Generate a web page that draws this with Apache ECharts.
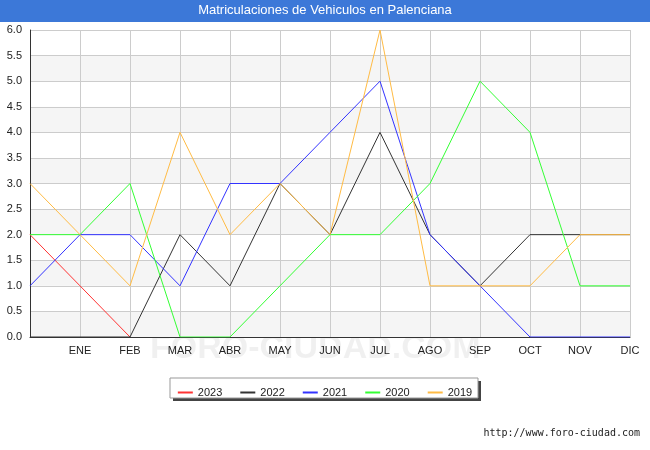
<!DOCTYPE html>
<html><head><meta charset="utf-8">
<script src="https://cdn.jsdelivr.net/npm/echarts@6/dist/echarts.min.js"></script>
<style>body{margin:0}#c{width:650px;height:450px}</style></head>
<body><div id="c"></div>
<script>
const months = ['', 'ENE', 'FEB', 'MAR', 'ABR', 'MAY', 'JUN', 'JUL', 'AGO', 'SEP', 'OCT', 'NOV', 'DIC'];
const s2023 = [2, 1, 0];
const s2022 = [0, 0, 0, 2, 1, 3, 2, 4, 2, 1, 2, 2, 2];
const s2021 = [1, 2, 2, 1, 3, 3, 4, 5, 2, 1, 0, 0, 0];
const s2020 = [2, 2, 3, 0, 0, 1, 2, 2, 3, 5, 4, 1, 1];
const s2019 = [3, 2, 1, 4, 2, 3, 2, 6, 1, 1, 1, 2, 2];

const chart = echarts.init(document.getElementById('c'));
const line = (name, data, color) => ({
  name: name, type: 'line', data: data, symbol: 'none',
  lineStyle: { color: color, width: 1 }, itemStyle: { color: color }
});
chart.setOption({
  animation: false,
  graphic: [
    { type: 'rect', shape: { x: 0, y: 0, width: 650, height: 22 }, style: { fill: '#3c78d8' } },
    { type: 'text', left: 'center', top: 4, style: { text: 'Matriculaciones de Vehiculos en Palenciana', fill: '#fff', font: '13px sans-serif' } },
    { type: 'text', left: 150, top: 332, style: { text: 'FORO-CIUDAD.COM', fill: 'rgba(0,0,0,0.06)', font: 'bold 34px sans-serif' } },
    { type: 'text', right: 10, top: 428, style: { text: 'http://www.foro-ciudad.com', fill: '#222', font: '10px monospace' } },
    { type: 'rect', shape: { x: 173, y: 381, width: 308, height: 20 }, style: { fill: '#444' } },
    { type: 'rect', shape: { x: 170, y: 378, width: 308, height: 20 }, style: { fill: '#fff', stroke: '#999' } }
  ],
  legend: {
    top: 382, left: 'center', itemWidth: 15, itemHeight: 2, itemGap: 18,
    icon: 'rect', textStyle: { fontSize: 11, color: '#222' },
    data: ['2023', '2022', '2021', '2020', '2019']
  },
  grid: { left: 30, right: 20, top: 30, bottom: 113 },
  xAxis: {
    type: 'category', data: months, boundaryGap: false,
    axisLine: { lineStyle: { color: '#333' } }, axisTick: { show: false },
    axisLabel: { color: '#222', fontSize: 11, margin: 8 },
    splitLine: { show: true, lineStyle: { color: '#ccc' } }
  },
  yAxis: {
    type: 'value', min: 0, max: 6, interval: 0.5,
    axisLine: { show: true, lineStyle: { color: '#333' } },
    axisLabel: { color: '#222', fontSize: 11, formatter: v => v.toFixed(1) },
    splitLine: { lineStyle: { color: '#ccc' } },
    splitArea: { show: true, areaStyle: { color: ['#f5f5f5', '#fff'] } }
  },
  series: [
    line('2023', s2023, '#ff3333'),
    line('2022', s2022, '#333333'),
    line('2021', s2021, '#3333ff'),
    line('2020', s2020, '#33ff33'),
    line('2019', s2019, '#ffbb44')
  ]
});
</script></body></html>
